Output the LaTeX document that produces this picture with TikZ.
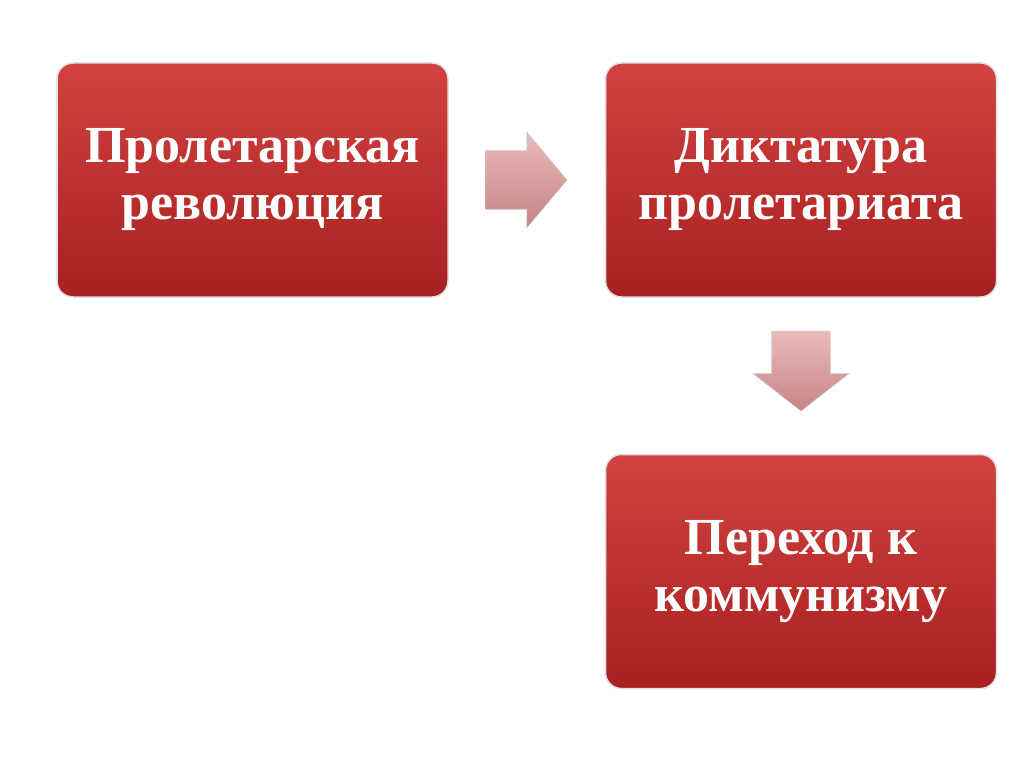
\documentclass[tikz,border=0pt]{standalone}
\usepackage{fontspec}
\setmainfont{Liberation Serif}
\usepackage{xcolor}
\definecolor{boxtop}{RGB}{210, 66, 64}
\definecolor{boxbottom}{RGB}{168, 32, 32}
\definecolor{arrowtop}{RGB}{234, 186, 186}
\definecolor{arrowbottom}{RGB}{198, 132, 134}
\usepackage{tikz}
\usetikzlibrary{positioning, shapes.arrows}

\begin{document}
\begin{tikzpicture}[x=1pt, y=1pt]
  \tikzstyle{block} = [rectangle, rounded corners=16pt, top color=boxtop, bottom color=boxbottom, draw=gray!25, line width=1.5pt, minimum width=391pt, minimum height=234pt, text=white, align=center, font=\fontsize{52}{57}\selectfont\bfseries]
  \tikzstyle{blockarrow} = [single arrow, inner xsep=0pt, inner ysep=29pt, single arrow head extend=18.5pt, draw=gray!40, line width=0.6pt, top color=arrowtop, bottom color=arrowbottom]

  \useasboundingbox (0,0) rectangle (1024,-767);

  \node [block] (step1) at (252.5,-180) {Пролетарская\\революция};
  \node [block, right=156pt of step1] (step2) {Диктатура\\пролетариата};
  \node [block, below=156pt of step2] (step3) {Переход к\\коммунизму};

  \node [blockarrow, right=36pt of step1, anchor=tail, minimum height=82pt, single arrow tip angle=100] (arrow1) {};
  \node [blockarrow, below=33pt of step2, anchor=tail, rotate=-90, minimum height=80pt, single arrow tip angle=104] (arrow2) {};
\end{tikzpicture}
\end{document}
